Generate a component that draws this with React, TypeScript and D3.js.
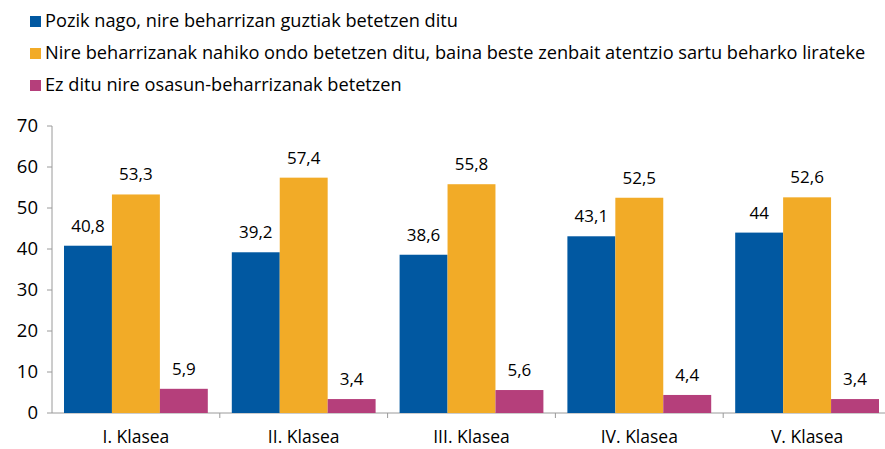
import React from "react";
import * as d3 from "d3";

const categories = ["I. Klasea", "II. Klasea", "III. Klasea", "IV. Klasea", "V. Klasea"];
const seriesNames = [
  "Pozik nago, nire beharrizan guztiak betetzen ditu",
  "Nire beharrizanak nahiko ondo betetzen ditu, baina beste zenbait atentzio sartu beharko lirateke",
  "Ez ditu nire osasun-beharrizanak betetzen",
];
const pozik = [40.8, 39.2, 38.6, 43.1, 44];
const nahiko = [53.3, 57.4, 55.8, 52.5, 52.6];
const ez = [5.9, 3.4, 5.6, 4.4, 3.4];
const yTicks = [0, 10, 20, 30, 40, 50, 60, 70];
const colors = ["#0158A1", "#F2AB27", "#B53F7B"];

const W = 885;
const H = 449;
const FONT = "'Open Sans', sans-serif";

export default function App() {
  const series = [pozik, nahiko, ez];
  const x0 = 52;
  const band = 167.8;
  const x = d3
    .scaleBand<string>()
    .domain(categories)
    .range([x0, x0 + band * categories.length])
    .paddingInner(0)
    .paddingOuter(0);
  const y = d3.scaleLinear().domain([0, 70]).range([413, 126]);
  const groupPad = 12;
  const xs = d3
    .scaleBand<number>()
    .domain([0, 1, 2])
    .range([groupPad, band - groupPad]);
  const fmt = (v: number) => String(v).replace(".", ",");
  const legendY = [21, 53, 85];

  return (
    <div style={{ position: "absolute", left: 0, top: 0 }}>
      <svg width={W} height={H} style={{ display: "block", fontFamily: FONT }}>
        <rect width={W} height={H} fill="#fff" />
        {seriesNames.map((n, i) => (
          <g key={n}>
            <rect x={30} y={legendY[i] - 5} width={11} height={11} fill={colors[i]} />
            <text x={45} y={legendY[i]} dy="0.35em" fontSize={18.2} fill="#000">
              {n}
            </text>
          </g>
        ))}
        {/* y axis */}
        <line x1={x0} x2={x0} y1={y(70)} y2={y(0)} stroke="#9a9a9a" strokeWidth={1} />
        {yTicks.map((t) => (
          <g key={t}>
            <line x1={x0 - 5} x2={x0} y1={y(t)} y2={y(t)} stroke="#9a9a9a" />
            <text x={38} y={y(t)} dy="0.35em" textAnchor="end" fontSize={18.5} fill="#000">
              {t}
            </text>
          </g>
        ))}
        {/* x axis */}
        <line x1={x0} x2={W} y1={y(0)} y2={y(0)} stroke="#9a9a9a" />
        {categories.map((c, i) => (
          <g key={c}>
            <line
              x1={(x(c) as number) + band}
              x2={(x(c) as number) + band}
              y1={y(0)}
              y2={y(0) + 5}
              stroke="#9a9a9a"
            />
            <text
              x={(x(c) as number) + band / 2}
              y={437}
              dy="0.35em"
              textAnchor="middle"
              fontSize={17.5}
              fill="#000"
            >
              {c}
            </text>
            {series.map((s, j) => {
              const bx = (x(c) as number) + (xs(j) as number);
              return (
                <g key={j}>
                  <rect
                    x={bx}
                    y={y(s[i])}
                    width={xs.bandwidth()}
                    height={y(0) - y(s[i])}
                    fill={colors[j]}
                  />
                  <text
                    x={bx + xs.bandwidth() / 2}
                    y={y(s[i]) - 20}
                    dy="0.35em"
                    textAnchor="middle"
                    fontSize={17}
                    fill="#000"
                  >
                    {fmt(s[i])}
                  </text>
                </g>
              );
            })}
          </g>
        ))}
      </svg>
    </div>
  );
}
